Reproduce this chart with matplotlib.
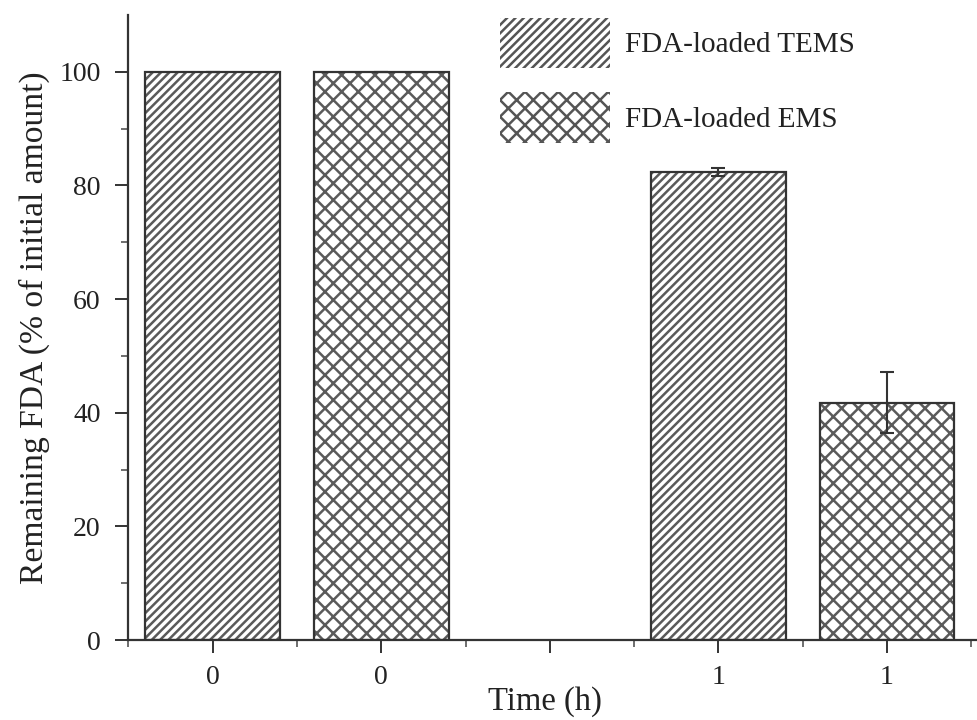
import matplotlib
matplotlib.use("Agg")
import matplotlib.pyplot as plt
from matplotlib.patches import Patch
from matplotlib.ticker import FixedLocator

# ---- data ----
series_names = ["FDA-loaded TEMS", "FDA-loaded EMS"]
slot_labels = ["0", "0", "", "1", "1"]          # x tick labels (slot 3 empty)
tems_slots = [1, 4]
ems_slots = [2, 5]
tems_values = [100.0, 82.4]
tems_err = [0.0, 0.7]
ems_values = [100.0, 41.8]
ems_err = [0.0, 5.4]

plt.rcParams["font.family"] = ["Liberation Serif", "DejaVu Serif"]
plt.rcParams["hatch.linewidth"] = 1.8

fig = plt.figure(figsize=(9.78, 7.2), dpi=100)
ax = fig.add_axes([128.5 / 978, 1 - 640 / 720, (978 - 128.5) / 978, (640 - 15) / 720])

hatch_col = "#5a5a5a"
edge = "#333333"
bar_w = 0.8
# hatched fill (hatch colour follows edgecolor), then the darker outline on top
ax.bar(tems_slots, tems_values, width=bar_w, facecolor="white", edgecolor=hatch_col,
       linewidth=0, hatch="////", zorder=2)
ax.bar(ems_slots, ems_values, width=bar_w, facecolor="white", edgecolor=hatch_col,
       linewidth=0, hatch="xx", zorder=2)
ax.bar(tems_slots, tems_values, width=bar_w, facecolor="none", edgecolor=edge,
       linewidth=1.6, zorder=2.5)
ax.bar(ems_slots, ems_values, width=bar_w, facecolor="none", edgecolor=edge,
       linewidth=1.6, zorder=2.5)
ax.errorbar(tems_slots, tems_values, yerr=tems_err, fmt="none", ecolor="#333333",
            elinewidth=1.5, capsize=4.7, capthick=1.5, zorder=3)
ax.errorbar(ems_slots, ems_values, yerr=ems_err, fmt="none", ecolor="#333333",
            elinewidth=1.5, capsize=4.7, capthick=1.5, zorder=3)

ax.set_xlim(0.5, 5.54)
ax.set_ylim(0, 110)

ax.set_xticks(range(1, len(slot_labels) + 1))
ax.set_xticklabels(slot_labels)
ax.xaxis.set_minor_locator(FixedLocator([0.5, 1.5, 2.5, 3.5, 4.5, 5.5]))
ax.set_yticks([0, 20, 40, 60, 80, 100])
ax.yaxis.set_minor_locator(FixedLocator([10, 30, 50, 70, 90]))

for s in ["top", "right"]:
    ax.spines[s].set_visible(False)
for s in ["left", "bottom"]:
    ax.spines[s].set_color("#333333")
    ax.spines[s].set_linewidth(1.6)

ax.tick_params(axis="both", which="major", direction="out", length=9.4, width=1.4,
               color="#333333", labelsize=20, labelcolor="#222222", pad=10.5)
ax.tick_params(axis="x", which="major", pad=8.5)
ax.tick_params(axis="both", which="minor", direction="out", length=5, width=1.2,
               color="#555555")

ax.set_xlabel("Time (h)", fontsize=23.5, color="#222222")
ax.xaxis.set_label_coords((544.5 - 128.5) / 849.5, (640 - 686) / 625)
ax.set_ylabel("Remaining FDA (% of initial amount)", fontsize=24.2, color="#222222",
              labelpad=7)

handles = [
    Patch(facecolor="white", edgecolor="#555555", linewidth=0, hatch="////"),
    Patch(facecolor="white", edgecolor="#555555", linewidth=0, hatch="xx"),
]
fs = 21
fs_px = fs * 100 / 72
fig.legend(handles, series_names, loc="upper left",
           bbox_to_anchor=(500 / 978, 1 - 18 / 720), bbox_transform=fig.transFigure,
           frameon=False, fontsize=fs, borderpad=0, borderaxespad=0,
           handlelength=110 / fs_px, handleheight=52 / fs_px + 0.49,
           handletextpad=15 / fs_px, labelspacing=0.83, labelcolor="#222222")

fig.savefig("out.png", dpi=100)
